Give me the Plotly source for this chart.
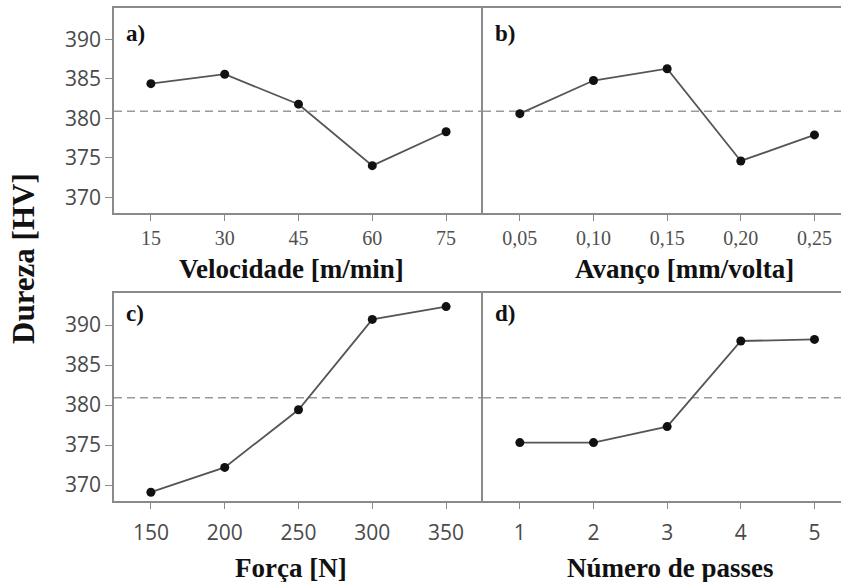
import plotly.graph_objects as go

W, H = 841, 582

# ---- data ----
vel_cats = ["15", "30", "45", "60", "75"]
vel_vals = [384.4, 385.6, 381.8, 374.0, 378.3]

avanco_cats = ["0,05", "0,10", "0,15", "0,20", "0,25"]
avanco_vals = [380.6, 384.8, 386.3, 374.6, 377.9]

forca_cats = ["150", "200", "250", "300", "350"]
forca_vals = [369.1, 372.2, 379.4, 390.7, 392.3]

passes_cats = ["1", "2", "3", "4", "5"]
passes_vals = [375.3, 375.3, 377.3, 388.0, 388.2]

grand_mean = 380.9
y_ticks = [370, 375, 380, 385, 390]
panel_labels = ["a)", "b)", "c)", "d)"]
x_titles = ["Velocidade [m/min]", "Avanço [mm/volta]", "Força [N]", "Número de passes"]
y_title = "Dureza [HV]"

SERIF = "Liberation Serif"

# ---- geometry helpers (pixels -> paper) ----
def px(x):
    return x / W

def py(y):
    return 1 - y / H

xa_dom = [px(114), px(483)]
xb_dom = [px(483), 1.0]
top_dom = [py(213), py(8)]
bot_dom = [py(501), py(293)]

fig = go.Figure()

series = [
    (vel_cats, vel_vals, "x", "y"),
    (avanco_cats, avanco_vals, "x2", "y2"),
    (forca_cats, forca_vals, "x3", "y3"),
    (passes_cats, passes_vals, "x4", "y4"),
]
for cats, vals, xr, yr in series:
    fig.add_trace(go.Scatter(
        x=cats, y=vals, xaxis=xr, yaxis=yr, mode="lines+markers",
        line=dict(color="#555555", width=1.8),
        marker=dict(color="#111111", size=9),
        showlegend=False, hoverinfo="skip",
    ))

AX = "#8a8a8a"
sans_tick = dict(family="Open Sans", size=21, color="#4a4a4a")
serif_tick = dict(family=SERIF, size=20, color="#505050")

yr = [368.0, 394.0]
xr_left = [-0.5, 4.5]
xr_right = [-0.5, 4.36]

def xaxis(dom, anchor, rng, font, standoff):
    return dict(domain=dom, anchor=anchor, type="category", range=rng,
                showline=True, linecolor=AX, linewidth=1.5, mirror=True,
                ticks="outside", ticklen=6, tickcolor=AX, tickwidth=1.3,
                tickfont=font, showgrid=False, zeroline=False,
                automargin=False, ticklabelstandoff=standoff)

def yaxis(dom, anchor, labels):
    return dict(domain=dom, anchor=anchor, range=yr,
                tickvals=y_ticks if labels else [],
                showline=True, linecolor=AX, linewidth=1.5, mirror=False,
                ticks="outside" if labels else "", ticklen=7, tickcolor=AX,
                tickwidth=1.3, showticklabels=labels, tickfont=sans_tick,
                showgrid=False, zeroline=False, automargin=False)

fig.update_layout(
    width=W, height=H,
    margin=dict(l=0, r=0, t=0, b=0),
    paper_bgcolor="white", plot_bgcolor="white",
    xaxis=xaxis(xa_dom, "y", xr_left, serif_tick, 0),
    xaxis2=xaxis(xb_dom, "y2", xr_right, serif_tick, 0),
    xaxis3=xaxis(xa_dom, "y3", xr_left, sans_tick, 6),
    xaxis4=xaxis(xb_dom, "y4", xr_right, sans_tick, 6),
    yaxis=yaxis(top_dom, "x", True),
    yaxis2=yaxis(top_dom, "x2", False),
    yaxis3=yaxis(bot_dom, "x3", True),
    yaxis4=yaxis(bot_dom, "x4", False),
)

# mean reference lines
for xr_, yr_ in [("x", "y"), ("x2", "y2"), ("x3", "y3"), ("x4", "y4")]:
    fig.add_shape(type="line", xref=f"{xr_} domain", yref=yr_,
                  x0=0, x1=1, y0=grand_mean, y1=grand_mean,
                  line=dict(color="#9a9a9a", width=1.5, dash="8px,5px"),
                  layer="below")

# panel labels
label_pos = [(124, 33), (493, 33), (124, 313), (493, 313)]
for lab, (lx, ly) in zip(panel_labels, label_pos):
    fig.add_annotation(text=lab, xref="paper", yref="paper",
                       x=px(lx), y=py(ly), xanchor="left", yanchor="middle",
                       showarrow=False,
                       font=dict(family=SERIF, weight="bold", size=23, color="#111111"))

# axis titles
title_pos = [(291, 269), (684, 269), (291, 568), (670, 568)]
for t, (tx, ty) in zip(x_titles, title_pos):
    fig.add_annotation(text=t, xref="paper", yref="paper",
                       x=px(tx), y=py(ty), xanchor="center", yanchor="middle",
                       showarrow=False,
                       font=dict(family=SERIF, weight="bold", size=27, color="#111111"))

fig.add_annotation(text=y_title, xref="paper", yref="paper",
                   x=px(23), y=py(259), xanchor="center", yanchor="middle",
                   textangle=-90, showarrow=False,
                   font=dict(family=SERIF, weight="bold", size=31, color="#111111"))

fig.write_html("out.html")
